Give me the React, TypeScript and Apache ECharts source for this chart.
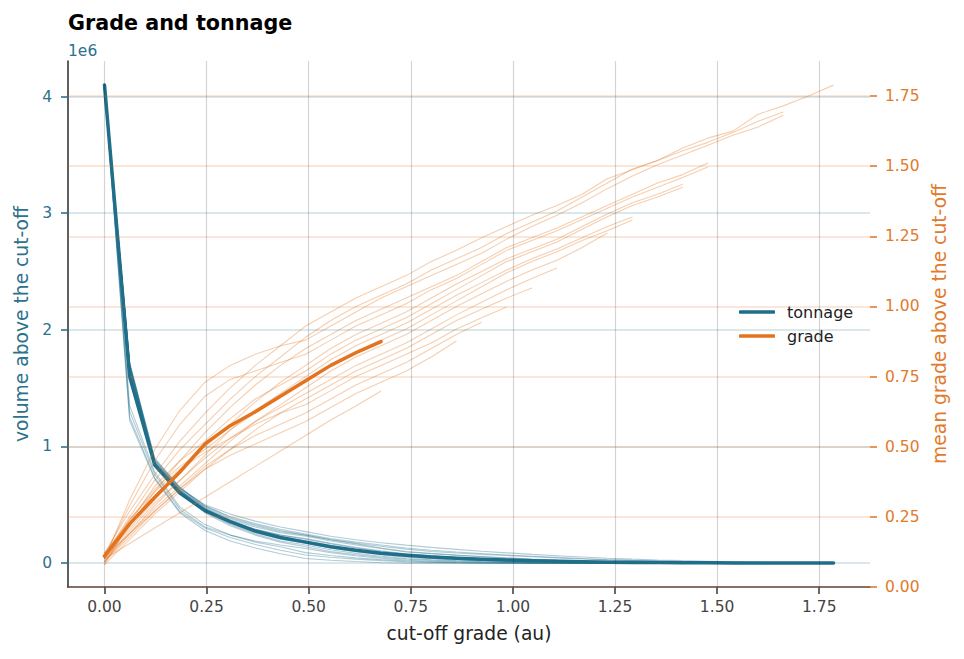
import React, { useEffect, useRef } from "react";
import * as echarts from "echarts";

// ---------- data ----------
const cutoffs = [
  0, 0.0616, 0.1231, 0.1847, 0.2462, 0.3078, 0.3693, 0.4309, 0.4924, 0.554,
  0.6155, 0.6771, 0.7386, 0.8002, 0.8617, 0.9233, 0.9848, 1.0464, 1.1079, 1.1695,
  1.231, 1.2926, 1.3541, 1.4157, 1.4772, 1.5388, 1.6003, 1.6619, 1.7234, 1.785,
];

const xTickLabels = [0, 0.25, 0.5, 0.75, 1.0, 1.25, 1.5, 1.75];
const volumeTickLabels = [0, 1, 2, 3, 4]; // x 1e6
const gradeTickLabels = [0, 0.25, 0.5, 0.75, 1.0, 1.25, 1.5, 1.75];

// mean curves (volume in millions)
const tonnageMean = [4.1, 1.6, 0.84, 0.6, 0.45, 0.355, 0.275, 0.22, 0.18, 0.14, 0.11, 0.085, 0.068, 0.053, 0.042, 0.033, 0.026, 0.02, 0.015, 0.011, 0.008, 0.006, 0.004, 0.003, 0.002, 0.0015, 0.001, 0.0006, 0.0003, 0.0001];
const gradeMean = [0.11, 0.225, 0.32, 0.41, 0.51, 0.575, 0.625, 0.68, 0.735, 0.79, 0.835, 0.875];

// realizations: volume above cut-off (millions)
const tonnageSim01 = [4.1, 1.66, 0.86, 0.64, 0.5, 0.42, 0.36, 0.31, 0.27, 0.23, 0.2, 0.175, 0.154, 0.135, 0.118, 0.102, 0.088, 0.075, 0.063, 0.052, 0.042, 0.034, 0.027, 0.021, 0.016, 0.012, 0.008, 0.005, 0.003, 0.001];
const tonnageSim02 = [4.1, 1.7, 0.88, 0.64, 0.49, 0.4, 0.34, 0.29, 0.25, 0.21, 0.18, 0.155, 0.13, 0.11, 0.095, 0.082, 0.07, 0.059, 0.049, 0.039, 0.03, 0.023, 0.017, 0.013, 0.01, 0.007, 0.004, 0.002, 0, 0];
const tonnageSim03 = [4.1, 1.72, 0.9, 0.65, 0.49, 0.39, 0.33, 0.28, 0.24, 0.2, 0.17, 0.145, 0.12, 0.1, 0.087, 0.075, 0.065, 0.054, 0.044, 0.035, 0.027, 0.021, 0.016, 0.012, 0.009, 0.006, 0.003, 0.001, 0, 0];
const tonnageSim04 = [4.1, 1.68, 0.85, 0.62, 0.48, 0.38, 0.32, 0.27, 0.24, 0.2, 0.165, 0.13, 0.1, 0.083, 0.07, 0.057, 0.045, 0.035, 0.027, 0.02, 0.015, 0.01, 0.006, 0.004, 0.002, 0, 0, 0, 0, 0];
const tonnageSim05 = [4.1, 1.71, 0.89, 0.65, 0.47, 0.37, 0.31, 0.26, 0.23, 0.19, 0.155, 0.125, 0.095, 0.08, 0.066, 0.054, 0.042, 0.033, 0.025, 0.018, 0.013, 0.009, 0.006, 0.003, 0.002, 0, 0, 0, 0, 0];
const tonnageSim06 = [4.1, 1.69, 0.87, 0.63, 0.47, 0.36, 0.29, 0.24, 0.21, 0.17, 0.135, 0.105, 0.08, 0.064, 0.05, 0.039, 0.03, 0.023, 0.017, 0.012, 0.008, 0.005, 0.003, 0.001, 0, 0, 0, 0, 0, 0];
const tonnageSim07 = [4.1, 1.7, 0.86, 0.62, 0.46, 0.36, 0.29, 0.24, 0.205, 0.165, 0.13, 0.1, 0.075, 0.06, 0.047, 0.037, 0.028, 0.021, 0.015, 0.011, 0.007, 0.004, 0.002, 0.001, 0, 0, 0, 0, 0, 0];
const tonnageSim08 = [4.1, 1.67, 0.84, 0.61, 0.46, 0.35, 0.28, 0.225, 0.19, 0.15, 0.115, 0.088, 0.065, 0.05, 0.037, 0.027, 0.02, 0.014, 0.01, 0.006, 0.004, 0.002, 0, 0, 0, 0, 0, 0, 0, 0];
const tonnageSim09 = [4.1, 1.71, 0.88, 0.63, 0.45, 0.35, 0.27, 0.22, 0.185, 0.145, 0.11, 0.083, 0.06, 0.046, 0.034, 0.025, 0.018, 0.013, 0.009, 0.005, 0.003, 0.001, 0, 0, 0, 0, 0, 0, 0, 0];
const tonnageSim10 = [4.1, 1.68, 0.86, 0.62, 0.45, 0.34, 0.26, 0.205, 0.17, 0.13, 0.097, 0.071, 0.05, 0.037, 0.027, 0.019, 0.014, 0.009, 0.006, 0.004, 0.002, 0, 0, 0, 0, 0, 0, 0, 0, 0];
const tonnageSim11 = [4.1, 1.66, 0.83, 0.6, 0.44, 0.33, 0.25, 0.19, 0.155, 0.115, 0.083, 0.059, 0.04, 0.029, 0.02, 0.013, 0.008, 0.004, 0.002, 0, 0, 0, 0, 0, 0, 0, 0, 0, 0, 0];
const tonnageSim12 = [4.1, 1.7, 0.86, 0.61, 0.43, 0.32, 0.24, 0.18, 0.14, 0.1, 0.072, 0.05, 0.033, 0.023, 0.015, 0.009, 0.005, 0.002, 0, 0, 0, 0, 0, 0, 0, 0, 0, 0, 0, 0];
const tonnageSim13 = [4.1, 1.3, 0.76, 0.46, 0.31, 0.24, 0.19, 0.155, 0.125, 0.09, 0.063, 0.042, 0.025, 0.016, 0.009, 0.005, 0.002, 0, 0, 0, 0, 0, 0, 0, 0, 0, 0, 0, 0, 0];
const tonnageSim14 = [4.1, 1.35, 0.78, 0.48, 0.33, 0.24, 0.18, 0.14, 0.09, 0.065, 0.045, 0.03, 0.018, 0.01, 0.005, 0.002, 0, 0, 0, 0, 0, 0, 0, 0, 0, 0, 0, 0, 0, 0];
const tonnageSim15 = [4.1, 1.25, 0.73, 0.44, 0.3, 0.22, 0.16, 0.11, 0.07, 0.05, 0.034, 0.021, 0.011, 0.006, 0.002, 0, 0, 0, 0, 0, 0, 0, 0, 0, 0, 0, 0, 0, 0, 0];
const tonnageSim16 = [4.1, 1.22, 0.72, 0.43, 0.28, 0.19, 0.13, 0.08, 0.04, 0.025, 0.013, 0.003, 0, 0, 0, 0, 0, 0, 0, 0, 0, 0, 0, 0, 0, 0, 0, 0, 0, 0];

// realizations: mean grade above cut-off (defined while volume > 0)
const gradeSim01 = [0.12, 0.27, 0.4, 0.52, 0.62, 0.71, 0.79, 0.86, 0.93, 0.98, 1.03, 1.07, 1.11, 1.16, 1.2, 1.245, 1.285, 1.325, 1.36, 1.4, 1.455, 1.487, 1.52, 1.565, 1.6, 1.625, 1.685, 1.715, 1.75, 1.789];
const gradeSim02 = [0.11, 0.25, 0.38, 0.49, 0.58, 0.67, 0.75, 0.82, 0.89, 0.95, 1.0, 1.04, 1.08, 1.13, 1.17, 1.21, 1.26, 1.3, 1.34, 1.39, 1.44, 1.49, 1.52, 1.555, 1.585, 1.62, 1.66, 1.693];
const gradeSim03 = [0.1, 0.31, 0.49, 0.63, 0.73, 0.79, 0.83, 0.86, 0.88, 0.93, 0.98, 1.03, 1.07, 1.11, 1.15, 1.19, 1.24, 1.285, 1.325, 1.37, 1.42, 1.465, 1.505, 1.54, 1.575, 1.61, 1.64, 1.682];
const gradeSim04 = [0.09, 0.22, 0.34, 0.45, 0.55, 0.64, 0.72, 0.79, 0.85, 0.9, 0.95, 0.99, 1.03, 1.07, 1.11, 1.16, 1.21, 1.245, 1.28, 1.32, 1.36, 1.4, 1.44, 1.47, 1.511];
const gradeSim05 = [0.11, 0.29, 0.45, 0.58, 0.68, 0.74, 0.77, 0.8, 0.83, 0.88, 0.93, 0.97, 1.01, 1.06, 1.1, 1.15, 1.2, 1.235, 1.27, 1.31, 1.35, 1.39, 1.425, 1.46, 1.497];
const gradeSim06 = [0.1, 0.21, 0.31, 0.41, 0.5, 0.58, 0.66, 0.73, 0.79, 0.85, 0.9, 0.94, 0.98, 1.03, 1.08, 1.125, 1.17, 1.205, 1.24, 1.285, 1.33, 1.37, 1.4, 1.436];
const gradeSim07 = [0.08, 0.23, 0.36, 0.45, 0.52, 0.6, 0.67, 0.72, 0.77, 0.83, 0.88, 0.92, 0.96, 1.01, 1.06, 1.11, 1.16, 1.195, 1.23, 1.275, 1.32, 1.36, 1.39, 1.425];
const gradeSim08 = [0.09, 0.19, 0.29, 0.38, 0.47, 0.56, 0.63, 0.69, 0.75, 0.81, 0.86, 0.9, 0.94, 0.99, 1.04, 1.085, 1.13, 1.17, 1.205, 1.245, 1.285, 1.319];
const gradeSim09 = [0.12, 0.24, 0.35, 0.43, 0.49, 0.56, 0.62, 0.68, 0.73, 0.79, 0.84, 0.88, 0.92, 0.97, 1.02, 1.07, 1.12, 1.16, 1.195, 1.235, 1.27, 1.308];
const gradeSim10 = [0.1, 0.19, 0.28, 0.36, 0.44, 0.52, 0.59, 0.65, 0.71, 0.77, 0.82, 0.86, 0.9, 0.95, 1.0, 1.045, 1.09, 1.13, 1.165, 1.21, 1.262];
const gradeSim11 = [0.09, 0.2, 0.3, 0.38, 0.46, 0.53, 0.59, 0.64, 0.69, 0.74, 0.79, 0.83, 0.87, 0.92, 0.97, 1.015, 1.06, 1.1, 1.137];
const gradeSim12 = [0.11, 0.19, 0.27, 0.35, 0.42, 0.49, 0.56, 0.62, 0.67, 0.72, 0.77, 0.81, 0.85, 0.9, 0.95, 0.99, 1.03, 1.066];
const gradeSim13 = [0.1, 0.24, 0.34, 0.42, 0.48, 0.53, 0.58, 0.62, 0.65, 0.7, 0.75, 0.79, 0.83, 0.87, 0.92, 0.96, 0.998];
const gradeSim14 = [0.09, 0.18, 0.27, 0.35, 0.43, 0.49, 0.54, 0.58, 0.62, 0.67, 0.72, 0.76, 0.8, 0.85, 0.9, 0.944];
const gradeSim15 = [0.08, 0.17, 0.26, 0.34, 0.42, 0.47, 0.51, 0.55, 0.59, 0.64, 0.69, 0.73, 0.77, 0.82, 0.877];
const gradeSim16 = [0.1, 0.155, 0.21, 0.265, 0.32, 0.375, 0.43, 0.485, 0.54, 0.595, 0.645, 0.699];

const tonnageSims = [tonnageSim01, tonnageSim02, tonnageSim03, tonnageSim04, tonnageSim05, tonnageSim06, tonnageSim07, tonnageSim08, tonnageSim09, tonnageSim10, tonnageSim11, tonnageSim12, tonnageSim13, tonnageSim14, tonnageSim15, tonnageSim16];
const gradeSims = [gradeSim01, gradeSim02, gradeSim03, gradeSim04, gradeSim05, gradeSim06, gradeSim07, gradeSim08, gradeSim09, gradeSim10, gradeSim11, gradeSim12, gradeSim13, gradeSim14, gradeSim15, gradeSim16];

// ---------- styling ----------
const FONT = "'DejaVu Sans', 'Liberation Sans', sans-serif";
const TON = "#1f6e8a";
const GRD = "#e3731e";
const TON_TEXT = "#2c728c";
const GRD_TEXT = "#e27a2c";
const DARK = "#444444";

const pts = (vals: number[]) => vals.map((v, i) => [cutoffs[i], v]);

export default function App() {
  const ref = useRef<HTMLDivElement>(null);

  useEffect(() => {
    if (!ref.current) return;
    const chart = echarts.init(ref.current, undefined, { renderer: "svg" });

    const gridLineSeries = (axisIdx: number, key: "xAxis" | "yAxis", values: number[], color: string, width: number) => ({
      type: "line",
      name: `grid-${key}-${axisIdx}`,
      xAxisIndex: 0,
      yAxisIndex: key === "yAxis" ? axisIdx : 0,
      data: [[0, key === "yAxis" && axisIdx === 1 ? 0.5 : 1]],
      symbol: "none",
      showSymbol: false,
      lineStyle: { opacity: 0 },
      silent: true,
      z: 1,
      markLine: {
        silent: true,
        symbol: ["none", "none"],
        label: { show: false },
        emphasis: { disabled: true },
        lineStyle: { color, width, type: "solid" },
        data: values.map((v) => ({ [key]: v })),
      },
    });

    const series: any[] = [
      gridLineSeries(0, "xAxis", xTickLabels, "rgba(0,0,0,0.17)", 1.2),
      gridLineSeries(0, "yAxis", volumeTickLabels, "rgba(31,110,138,0.22)", 1.5),
      gridLineSeries(1, "yAxis", gradeTickLabels, "rgba(227,115,30,0.22)", 1.5),
    ];

    tonnageSims.forEach((sim, k) => {
      series.push({
        type: "line",
        name: `tonnage sim ${k + 1}`,
        xAxisIndex: 0,
        yAxisIndex: 0,
        data: pts(sim),
        symbol: "none",
        silent: true,
        z: 2,
        lineStyle: { color: TON, width: 1.1, opacity: 0.35 },
      });
    });
    series.push({
      type: "line",
      name: "tonnage",
      xAxisIndex: 0,
      yAxisIndex: 0,
      data: pts(tonnageMean),
      symbol: "none",
      silent: true,
      z: 3,
      itemStyle: { color: TON },
      lineStyle: { color: TON, width: 3.5, cap: "round", join: "round" },
    });
    gradeSims.forEach((sim, k) => {
      series.push({
        type: "line",
        name: `grade sim ${k + 1}`,
        xAxisIndex: 0,
        yAxisIndex: 1,
        data: pts(sim),
        symbol: "none",
        silent: true,
        z: 4,
        lineStyle: { color: GRD, width: 1.1, opacity: 0.35 },
      });
    });
    series.push({
      type: "line",
      name: "grade",
      xAxisIndex: 0,
      yAxisIndex: 1,
      data: pts(gradeMean),
      symbol: "none",
      silent: true,
      z: 5,
      itemStyle: { color: GRD },
      lineStyle: { color: GRD, width: 3.5, cap: "round", join: "round" },
    });

    const option: any = {
      animation: false,
      backgroundColor: "#ffffff",
      textStyle: { fontFamily: FONT },
      title: {
        text: "Grade and tonnage",
        left: 68,
        top: 12,
        padding: 0,
        textStyle: { fontFamily: FONT, fontWeight: "bold", fontSize: 20.7, color: "#000" },
      },
      grid: { left: 68, right: 94, top: 61, bottom: 72, containLabel: false },
      legend: {
        data: [
          { name: "tonnage", icon: "roundRect" },
          { name: "grade", icon: "roundRect" },
        ],
        orient: "vertical",
        left: 739,
        top: 303,
        padding: 0,
        itemWidth: 36,
        itemHeight: 3.5,
        itemGap: 6,
        selectedMode: false,
        textStyle: { fontFamily: FONT, fontSize: 16, color: "#222", lineHeight: 18, padding: [0, 0, 0, 7] },
      },
      xAxis: {
        type: "value",
        min: -0.0893,
        max: 1.8743,
        name: "cut-off grade (au)",
        nameLocation: "middle",
        nameGap: 37,
        nameTextStyle: { fontFamily: FONT, fontSize: 18.7, color: "#222" },
        axisLine: { show: true, onZero: false, lineStyle: { color: DARK, width: 1.7 } },
        axisTick: { show: true, length: 7, customValues: xTickLabels, lineStyle: { color: DARK, width: 1.6 } },
        axisLabel: {
          customValues: xTickLabels,
          formatter: (v: number) => v.toFixed(2),
          color: DARK,
          fontFamily: FONT,
          fontSize: 15.5,
          margin: 12,
        },
        splitLine: { show: false },
      },
      yAxis: [
        {
          type: "value",
          position: "left",
          min: -0.205,
          max: 4.305,
          name: "volume above the cut-off",
          nameLocation: "middle",
          nameGap: 35,
          nameTextStyle: { fontFamily: FONT, fontSize: 18.7, color: TON_TEXT },
          axisLine: { show: true, onZero: false, lineStyle: { color: DARK, width: 1.7 } },
          axisTick: { show: true, length: 7, customValues: volumeTickLabels, lineStyle: { color: TON_TEXT, width: 1.6 } },
          axisLabel: {
            customValues: volumeTickLabels,
            formatter: (v: number) => String(Math.round(v)),
            color: TON_TEXT,
            fontFamily: FONT,
            fontSize: 15.5,
            margin: 16,
          },
          splitLine: { show: false },
        },
        {
          type: "value",
          position: "right",
          min: 0,
          max: 1.875,
          name: "mean grade above the cut-off",
          nameLocation: "middle",
          nameGap: 60,
          nameTextStyle: { fontFamily: FONT, fontSize: 18.7, color: GRD_TEXT },
          axisLine: { show: false, onZero: false },
          axisTick: { show: true, length: 7, customValues: gradeTickLabels, lineStyle: { color: GRD_TEXT, width: 1.6 } },
          axisLabel: {
            customValues: gradeTickLabels,
            formatter: (v: number) => v.toFixed(2),
            color: GRD_TEXT,
            fontFamily: FONT,
            fontSize: 15.5,
            margin: 15,
          },
          splitLine: { show: false },
        },
      ],
      graphic: [
        {
          type: "text",
          left: 68,
          top: 43,
          silent: true,
          style: { text: "1e6", fill: TON_TEXT, fontFamily: FONT, fontSize: 15.5 },
        },
      ],
      series,
    };

    chart.setOption(option);
    return () => chart.dispose();
  }, []);

  return (
    <div
      ref={ref}
      style={{ position: "fixed", left: 0, top: 0, width: 964, height: 659, background: "#fff" }}
    />
  );
}
